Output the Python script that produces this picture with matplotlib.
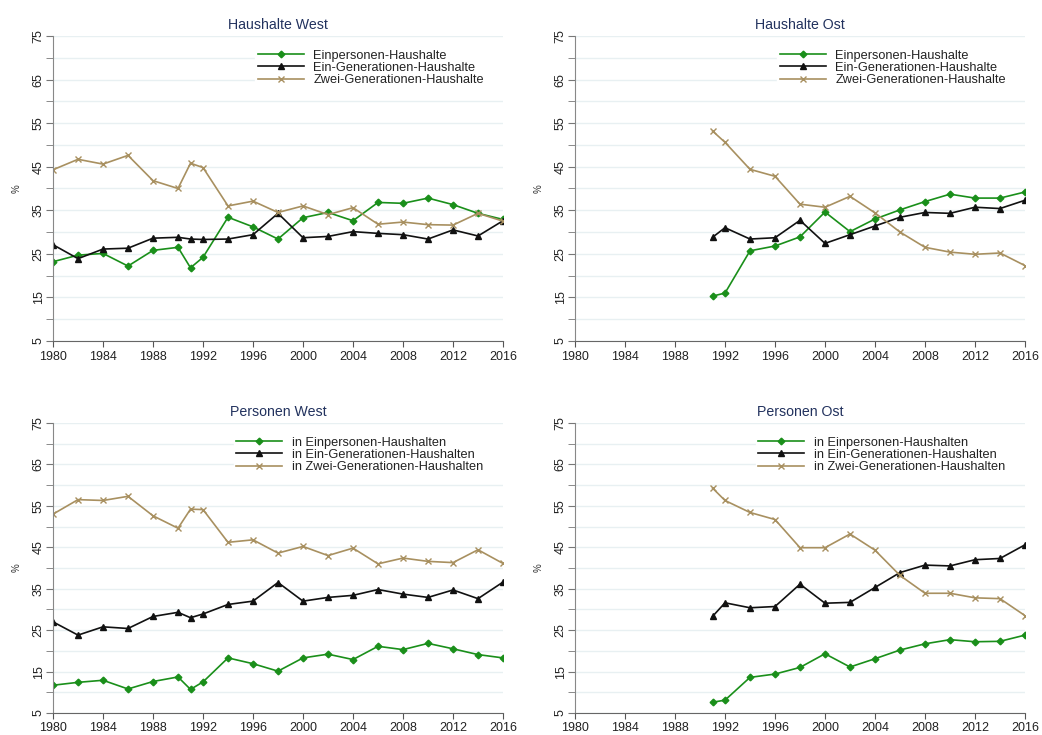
import matplotlib
matplotlib.use("Agg")
import matplotlib.pyplot as plt
from matplotlib.ticker import MultipleLocator

plt.rcParams['font.family'] = ['Liberation Sans', 'DejaVu Sans']

years_west = [1980, 1982, 1984, 1986, 1988, 1990, 1991, 1992, 1994, 1996, 1998,
              2000, 2002, 2004, 2006, 2008, 2010, 2012, 2014, 2016]
years_ost = [1991, 1992, 1994, 1996, 1998, 2000, 2002, 2004, 2006, 2008, 2010,
             2012, 2014, 2016]

# Haushalte West
hh_west_ein = [23.2, 24.7, 25.1, 22.2, 25.8, 26.5, 21.8, 24.2, 33.4, 31.2, 28.4,
               33.3, 34.5, 32.6, 36.8, 36.6, 37.8, 36.3, 34.3, 32.9]
hh_west_eingen = [27.1, 23.9, 26.1, 26.3, 28.6, 28.8, 28.4, 28.3, 28.4, 29.4, 34.3,
                  28.7, 29.0, 30.1, 29.7, 29.4, 28.4, 30.5, 29.1, 32.6]
hh_west_zwei = [44.3, 46.7, 45.6, 47.6, 41.8, 40.0, 45.8, 44.8, 36.0, 37.1, 34.5,
                36.0, 34.0, 35.6, 31.8, 32.3, 31.7, 31.6, 34.3, 32.5]

# Haushalte Ost
hh_ost_ein = [15.3, 16.0, 25.7, 26.8, 28.9, 34.6, 30.1, 33.0, 35.1, 37.0, 38.7,
              37.8, 37.8, 39.2]
hh_ost_eingen = [28.8, 31.0, 28.4, 28.7, 32.7, 27.4, 29.4, 31.4, 33.4, 34.5, 34.3,
                 35.7, 35.4, 37.3]
hh_ost_zwei = [53.2, 50.6, 44.4, 42.8, 36.4, 35.7, 38.2, 34.4, 30.0, 26.5, 25.4,
               24.9, 25.2, 22.3]

# Personen West
p_west_ein = [11.7, 12.4, 12.9, 10.8, 12.6, 13.7, 10.7, 12.5, 18.3, 16.9, 15.1,
              18.3, 19.2, 17.9, 21.1, 20.3, 21.8, 20.5, 19.1, 18.3]
p_west_eingen = [27.0, 23.8, 25.8, 25.4, 28.3, 29.3, 28.0, 28.9, 31.2, 32.0, 36.5,
                 32.0, 32.9, 33.4, 34.8, 33.7, 32.9, 34.7, 32.6, 36.6]
p_west_zwei = [53.0, 56.5, 56.3, 57.3, 52.6, 49.6, 54.2, 54.1, 46.2, 46.8, 43.6,
               45.2, 43.0, 44.8, 41.0, 42.4, 41.6, 41.3, 44.4, 41.1]

# Personen Ost
p_ost_ein = [7.6, 8.1, 13.6, 14.4, 16.0, 19.3, 16.1, 18.1, 20.2, 21.7, 22.7,
             22.2, 22.3, 23.8]
p_ost_eingen = [28.3, 31.6, 30.4, 30.7, 36.1, 31.5, 31.7, 35.3, 38.9, 40.7, 40.5,
                42.0, 42.3, 45.6]
p_ost_zwei = [59.3, 56.3, 53.4, 51.7, 44.9, 44.9, 48.2, 44.3, 38.2, 33.9, 33.9,
              32.8, 32.6, 28.5]

titles = ["Haushalte West", "Haushalte Ost", "Personen West", "Personen Ost"]
labels_hh = ["Einpersonen-Haushalte", "Ein-Generationen-Haushalte",
             "Zwei-Generationen-Haushalte"]
labels_p = ["in Einpersonen-Haushalten", "in Ein-Generationen-Haushalten",
            "in Zwei-Generationen-Haushalten"]
x_ticks = list(range(1980, 2017, 4))
y_ticks = list(range(5, 76, 10))

GREEN = "#1a8f1a"
BLACK = "#111111"
TAN = "#a89060"
TITLE_C = "#22325e"
GRID_C = "#e8f0f2"
SPINE_C = "#666666"

fig = plt.figure(figsize=(10.42, 7.35), dpi=100)
W = 1042.0
H = 735.0
boxes = [
    (53, 36, 503, 341),
    (575, 36, 1025, 341),
    (53, 423, 503, 713),
    (575, 423, 1025, 713),
]
# legend anchor (axes fraction x of legend box start)
leg_x = [0.449, 0.449, 0.402, 0.402]
x_pad = [3.5, 3.5, 2.5, 2.5]

panels = [
    (years_west, hh_west_ein, hh_west_eingen, hh_west_zwei, labels_hh),
    (years_ost, hh_ost_ein, hh_ost_eingen, hh_ost_zwei, labels_hh),
    (years_west, p_west_ein, p_west_eingen, p_west_zwei, labels_p),
    (years_ost, p_ost_ein, p_ost_eingen, p_ost_zwei, labels_p),
]

for (x0, y0, x1, y1), title, (yrs, a, b, c, labs), lx, xp in zip(
        boxes, titles, panels, leg_x, x_pad):
    ax = fig.add_axes([x0 / W, 1 - y1 / H, (x1 - x0) / W, (y1 - y0) / H])
    ax.plot(yrs, a, color=GREEN, lw=1.2, marker="D", ms=3.4, label=labs[0])
    ax.plot(yrs, b, color=BLACK, lw=1.2, marker="^", ms=4.5, label=labs[1])
    ax.plot(yrs, c, color=TAN, lw=1.2, marker="x", ms=4, mew=1.0, label=labs[2])
    ax.set_xlim(1980, 2016)
    ax.set_ylim(5, 75)
    ax.set_xticks(x_ticks)
    ax.set_yticks(y_ticks)
    ax.yaxis.set_minor_locator(MultipleLocator(5))
    ax.grid(True, which="both", axis="y", color=GRID_C, lw=1.0)
    ax.set_axisbelow(True)
    for s in ("top", "right"):
        ax.spines[s].set_visible(False)
    ax.spines["left"].set_color("#888888")
    ax.spines["bottom"].set_color(SPINE_C)
    ax.tick_params(axis="y", which="both", length=5, color="#777777",
                   labelsize=9, labelcolor="#222222", pad=1)
    ax.tick_params(axis="x", length=4, color="#555555", labelsize=9,
                   labelcolor="#222222", pad=xp)
    for lbl in ax.get_yticklabels():
        lbl.set_rotation(90)
        lbl.set_va("center")
    ax.set_ylabel("%", fontsize=7, color="#333333", labelpad=8)
    ax.set_title(title, fontsize=10.2, color=TITLE_C, pad=5)
    h_px = y1 - y0
    top = 1 - 11.0 / h_px
    leg = ax.legend(loc="upper left", bbox_to_anchor=(lx, top - 0.02, 1.0 - lx, 0.02),
                    mode="expand",
                    frameon=True, facecolor="white", edgecolor="white",
                    framealpha=1.0, fancybox=False, fontsize=9.2,
                    handlelength=3.6, handletextpad=0.75, labelspacing=0.02,
                    borderpad=0.2, borderaxespad=0.0)
    for t in leg.get_texts():
        t.set_color("#222222")

fig.savefig("out.png", dpi=100, facecolor="white")
